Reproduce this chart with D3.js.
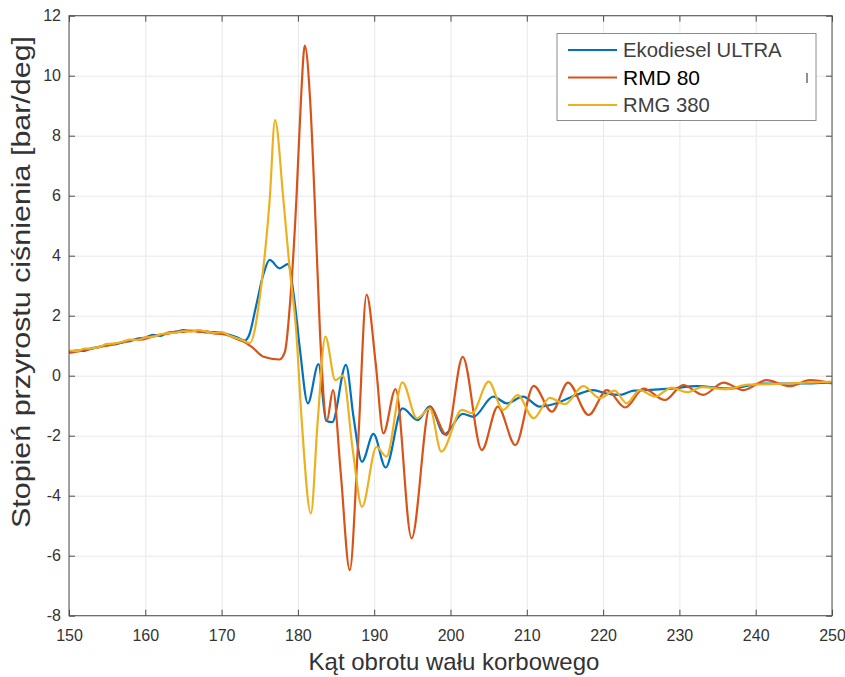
<!DOCTYPE html>
<html>
<head>
<meta charset="utf-8">
<script src="https://cdn.jsdelivr.net/npm/d3@7"></script>
<style>
  body { margin: 0; background: #fff; }
  text { font-family: "Liberation Sans", Arial, sans-serif; }
</style>
</head>
<body>
<svg id="chart" width="845" height="677"></svg>
<script>
// ticks
const xTicks = d3.range(150, 251, 10);
const yTicks = d3.range(-8, 13, 2);

// series, [deg, bar/deg]
const seriesNames = ['Ekodiesel ULTRA', 'RMD 80', 'RMG 380'];
const seriesColors = ['#0072BD', '#D95319', '#EDB120'];

const ekodiesel = [
  [150, 0.8], [151, 0.84], [152, 0.83], [153, 0.92], [154, 0.95], [155, 1.03], [156, 1.04],
  [157, 1.12], [158, 1.15], [159, 1.24], [160, 1.27], [161, 1.36], [162, 1.33], [163, 1.44],
  [164, 1.46], [165, 1.52], [166, 1.49], [167, 1.5], [168, 1.44], [169, 1.45], [170, 1.44],
  [171, 1.36], [172, 1.28], [173, 1.17],
  [173.6, 1.35], [174.5, 2.3], [175.5, 3.4], [176.3, 3.86], [177.6, 3.58], [178.7, 3.72],
  [179.5, 2.6], [180.3, 0.8], [181.3, -0.92], [182.7, 0.39], [183.7, -1.5], [184.5, -1.55],
  [186.3, 0.36], [187.3, -1.4], [188.4, -2.87], [189.9, -1.94], [191.5, -3.06], [193.7, -1.09],
  [195.7, -1.48], [197.3, -1.02], [199.2, -1.95], [201.6, -1.27], [203, -1.37], [205.6, -0.7],
  [207.4, -0.92], [209.5, -0.7], [211.7, -1.03], [213.9, -0.92], [216.5, -0.64], [218.7, -0.48],
  [220.5, -0.6], [222.2, -0.64], [224, -0.5], [225.7, -0.48], [228.8, -0.43], [232.3, -0.35],
  [236.6, -0.43], [241, -0.26], [245.4, -0.26], [250, -0.22]
];

const rmd80 = [
  [150, 0.76], [151, 0.8], [152, 0.86], [153, 0.89], [154, 0.97], [155, 1.0], [156, 1.07],
  [157, 1.1], [158, 1.18], [159, 1.2], [160, 1.23], [161, 1.31], [162, 1.37], [163, 1.4],
  [164, 1.47], [165, 1.46], [166, 1.5], [167, 1.46], [168, 1.48], [169, 1.41], [170, 1.39],
  [171, 1.33], [172, 1.22], [173, 1.12],
  [174, 0.95], [175.5, 0.63], [177.6, 0.54], [178.3, 0.8], [179.1, 2.86], [179.8, 5.86],
  [180.4, 9.2], [180.9, 11.0], [181.6, 9.2], [182.2, 5.86], [182.9, 1.41], [183.8, -1.5],
  [184.6, -0.48], [185.6, -3.2], [186.8, -6.48], [187.9, -2.2], [189, 2.7], [190.2, 0.4],
  [191.2, -1.92], [192.8, -0.45], [194.9, -5.42], [197.3, -1.05], [199.5, -1.98], [201.6, 0.63],
  [204.1, -2.48], [206.2, -1.03], [208.5, -2.31], [210.9, -0.34], [213.3, -1.2], [215.4, -0.23],
  [218.1, -1.31], [220.5, -0.48], [222.9, -1.06], [225.3, -0.43], [228.1, -0.81], [230.5, -0.31],
  [233.1, -0.64], [235.8, -0.23], [238.4, -0.48], [241.4, -0.15], [244.5, -0.35], [247.1, -0.15],
  [250, -0.26]
];

const rmg380 = [
  [150, 0.84], [151, 0.82], [152, 0.9], [153, 0.91], [154, 0.96], [155, 1.06], [156, 1.08],
  [157, 1.13], [158, 1.2], [159, 1.19], [160, 1.28], [161, 1.3], [162, 1.38], [163, 1.42],
  [164, 1.43], [165, 1.49], [166, 1.47], [167, 1.52], [168, 1.47], [169, 1.43], [170, 1.45],
  [171, 1.34], [172, 1.25], [173, 1.15],
  [173.7, 1.09], [175.2, 3.0], [176.3, 5.86], [177, 8.52], [178.1, 5.86], [178.9, 3.63],
  [179.8, 1.41], [180.5, -1.5], [181.7, -4.59], [182.6, -1.5], [183.6, 1.3], [184.9, -0.15],
  [185.9, 0.0], [187.2, -2.5], [188.4, -4.37], [190.3, -2.37], [191.6, -2.7], [193.7, -0.22],
  [195.6, -1.42], [197.3, -1.1], [198.8, -2.53], [201.5, -1.14], [202.8, -1.25], [205, -0.2],
  [206.9, -1.14], [208.8, -0.65], [210.9, -1.42], [213, -0.74], [215, -0.95], [217.4, -0.35],
  [219.6, -0.75], [221.5, -0.5], [223.1, -0.92], [224.8, -0.48], [226.8, -0.7], [229, -0.4],
  [231, -0.55], [233, -0.38], [236, -0.45], [239, -0.3], [242, -0.28], [245, -0.25],
  [248, -0.22], [250, -0.2]
];

const allSeries = [ekodiesel, rmd80, rmg380];

const svg = d3.select('#chart');
const plotLeft = 69, plotRight = 832, plotTop = 15.7, plotBottom = 615.7;

const x = d3.scaleLinear().domain([150, 250]).range([plotLeft, plotRight]);
const y = d3.scaleLinear().domain([-8, 12]).range([plotBottom, plotTop]);

// grid
svg.append('g')
    .attr('transform', `translate(0,${plotBottom})`)
    .call(d3.axisBottom(x).tickValues(xTicks).tickSize(-(plotBottom - plotTop)).tickFormat(''))
    .call(g => g.select('.domain').remove())
    .selectAll('line').attr('stroke', '#e8e8e8');
svg.append('g')
    .attr('transform', `translate(${plotLeft},0)`)
    .call(d3.axisLeft(y).tickValues(yTicks).tickSize(-(plotRight - plotLeft)).tickFormat(''))
    .call(g => g.select('.domain').remove())
    .selectAll('line').attr('stroke', '#e8e8e8');

// lines
const line = d3.line()
    .x(d => x(d[0]))
    .y(d => y(d[1]))
    .curve(d3.curveMonotoneX);

svg.append('g')
    .selectAll('path')
    .data(allSeries)
    .enter()
    .append('path')
    .attr('d', line)
    .attr('fill', 'none')
    .attr('stroke', (d, i) => seriesColors[i])
    .attr('stroke-width', 2.2)
    .attr('stroke-linejoin', 'round');

// axes, ticks inside like matlab
const tickCol = '#4d4d4d';
const plainNum = d => String(d);
const xAxis = svg.append('g')
    .attr('transform', `translate(0,${plotBottom})`)
    .call(d3.axisBottom(x).tickValues(xTicks).tickSize(-6).tickPadding(14).tickFormat(plainNum));
const xTop = svg.append('g')
    .attr('transform', `translate(0,${plotTop})`)
    .call(d3.axisTop(x).tickValues(xTicks).tickSize(-6).tickFormat(''));
const yAxis = svg.append('g')
    .attr('transform', `translate(${plotLeft},0)`)
    .call(d3.axisLeft(y).tickValues(yTicks).tickSize(-6).tickPadding(8).tickFormat(plainNum));
const yRight = svg.append('g')
    .attr('transform', `translate(${plotRight},0)`)
    .call(d3.axisRight(y).tickValues(yTicks).tickSize(-6).tickFormat(''));

[xAxis, xTop, yAxis, yRight].forEach(g => {
    g.select('.domain').remove();
    g.selectAll('line').attr('stroke', tickCol);
    g.selectAll('text')
        .attr('fill', '#333')
        .style('font-size', '16px');
});

svg.append('rect')
    .attr('x', plotLeft).attr('y', plotTop)
    .attr('width', plotRight - plotLeft).attr('height', plotBottom - plotTop)
    .attr('fill', 'none')
    .attr('stroke', tickCol)
    .attr('stroke-width', 1);

// axis labels
svg.append('text')
    .attr('x', 454)
    .attr('y', 670)
    .attr('text-anchor', 'middle')
    .attr('fill', '#333')
    .style('font-size', '24px')
    .text('Kąt obrotu wału korbowego');

svg.append('text')
    .attr('transform', 'translate(30,282) rotate(-90)')
    .attr('text-anchor', 'middle')
    .attr('fill', '#333')
    .attr('textLength', 492)
    .attr('lengthAdjust', 'spacingAndGlyphs')
    .style('font-size', '26px')
    .text('Stopień przyrostu ciśnienia [bar/deg]');

// legend
const legend = svg.append('g');
legend.append('rect')
    .attr('x', 557).attr('y', 33.5)
    .attr('width', 259).attr('height', 87)
    .attr('fill', '#fff')
    .attr('stroke', '#8c8c8c');

const legendY = [50, 77.5, 105];
seriesNames.forEach((name, i) => {
    legend.append('line')
        .attr('x1', 568).attr('x2', 617)
        .attr('y1', legendY[i]).attr('y2', legendY[i])
        .attr('stroke', seriesColors[i])
        .attr('stroke-width', 2.2);
    legend.append('text')
        .attr('x', 623)
        .attr('y', legendY[i])
        .attr('dy', '0.35em')
        .attr('fill', i === 1 ? '#000' : '#404040')
        .style('font-size', i === 1 ? '21px' : '20.3px')
        .text(name);
});
// stray mark in the legend box
legend.append('line')
    .attr('x1', 807).attr('x2', 807)
    .attr('y1', 73).attr('y2', 83)
    .attr('stroke', '#222')
    .attr('stroke-width', 1);
</script>
</body>
</html>
